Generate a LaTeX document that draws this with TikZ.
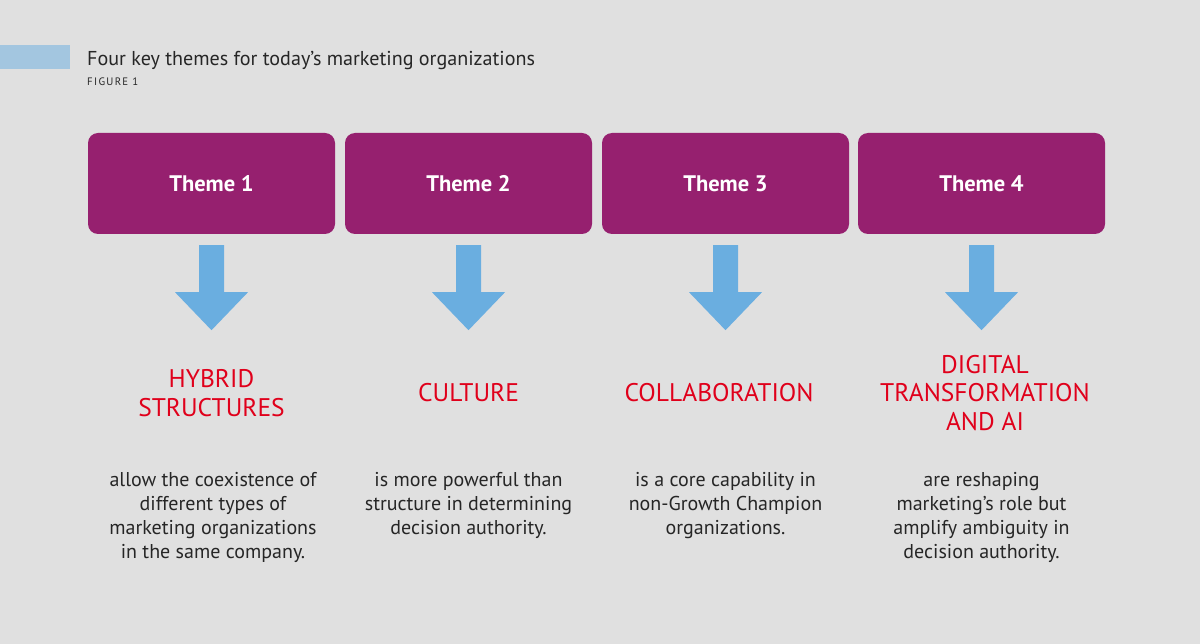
\documentclass[tikz,border=0pt]{standalone}
\usepackage{fontspec}
\setmainfont{PT Sans}
\usetikzlibrary{calc}
\definecolor{bg}{HTML}{E0E0E0}
\definecolor{purp}{HTML}{96206F}
\definecolor{arr}{HTML}{6AAEE0}
\definecolor{bar}{HTML}{A3C6E0}
\definecolor{red}{HTML}{E0001B}
\definecolor{txt}{HTML}{262626}
\tikzset{
  themebox/.style={fill=purp, rounded corners=10pt, minimum width=247pt, minimum height=101pt, inner sep=0pt, text=white, font=\fontsize{22.5}{26}\selectfont\bfseries},
  head/.style={text=red, align=center, font=\fontsize{25.5}{28.5}\selectfont, inner sep=0pt},
  body/.style={text=txt, align=center, font=\fontsize{20}{24}\selectfont, inner sep=0pt, anchor=north},
  blockarrow/.style={fill=arr}
}
\begin{document}
\begin{tikzpicture}[x=1pt,y=-1pt]
\fill[bg] (0,0) rectangle (1200,644);
\useasboundingbox (0,0) rectangle (1200,644);
\fill[bar] (0,45) rectangle (70,69);
\node[anchor=base west, inner sep=0pt, text=txt, font=\fontsize{20.1}{22}\selectfont] (title) at (87,66) {Four key themes for today’s marketing organizations};
\node[anchor=base west, inner sep=0pt, text=txt, font=\fontsize{10.8}{12}\selectfont\addfontfeature{LetterSpace=12}] (fig) at (87,86) {FIGURE 1};

\foreach \i/\cx in {1/211.5, 2/468.5, 3/725.5, 4/981.5} {
  \node[themebox] (t\i) at (\cx,183.5) {Theme \i};
  \fill[blockarrow] ($(t\i.south)+(-12.5,11)$) -- ($(t\i.south)+(12.5,11)$) -- ($(t\i.south)+(12.5,58)$) -- ($(t\i.south)+(36.5,58)$) -- ($(t\i.south)+(0,96)$) -- ($(t\i.south)+(-36.5,58)$) -- ($(t\i.south)+(-12.5,58)$) -- cycle;
}

\node[head] (h1) at (211.5,393) {HYBRID\\STRUCTURES};
\node[head] (h2) at (468.5,393) {CULTURE};
\node[head] (h3) at (719,393) {COLLABORATION};
\node[head] (h4) at (985,393) {DIGITAL\\TRANSFORMATION\\AND AI};

\node[body] (b1) at (213,472) {allow the coexistence of\\different types of\\marketing organizations\\in the same company.};
\node[body] (b2) at (468.5,472) {is more powerful than\\structure in determining\\decision authority.};
\node[body] (b3) at (725.5,472) {is a core capability in\\non-Growth Champion\\organizations.};
\node[body] (b4) at (981.5,472) {are reshaping\\marketing’s role but\\amplify ambiguity in\\decision authority.};
\end{tikzpicture}
\end{document}
